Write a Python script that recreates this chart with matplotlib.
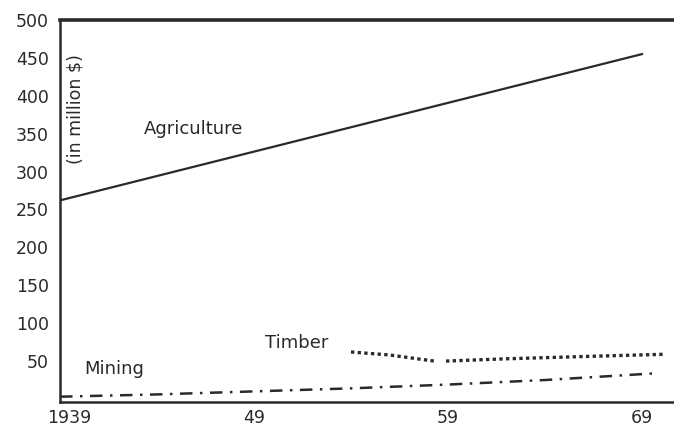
import numpy as np
import matplotlib
matplotlib.use("Agg")
import matplotlib.pyplot as plt
from matplotlib.transforms import ScaledTranslation

plt.rcParams['font.family'] = ['DejaVu Sans']

# Values (million $)
agri_years = [1939, 1969]
agri_values = [262, 455]

# timber has a short break just before 1959
timber_years = [1954, 1956, 1958, 1958.3, 1958.6, 1958.9, 1962, 1966, 1970.2]
timber_values = [62, 58, 51, 50, np.nan, 50, 53, 56, 59]

mining_years = [1939, 1944, 1949, 1954, 1959, 1964, 1969.8]
mining_values = [3, 6, 10, 14, 19, 25, 34]

year_ticks = [1939, 1949, 1959, 1969]
year_labels = ["1939", "49", "59", "69"]
value_ticks = [50, 100, 150, 200, 250, 300, 350, 400, 450, 500]

ink = "#2a2a2a"

fig = plt.figure(figsize=(6.74, 4.30), dpi=100)
ax = fig.add_axes([60 / 674, 28 / 430, 613 / 674, 382 / 430])

ax.plot(agri_years, agri_values, color=ink, lw=1.6)
ax.plot(timber_years, timber_values, color=ink, lw=2.4,
        linestyle=(0, (1, 1.0)))
ax.plot(mining_years, mining_values, color=ink, lw=1.8,
        linestyle=(0, (5, 3, 1, 3)))

ax.set_xlim(1939, 1970.6)
ax.set_ylim(-4, 500)

ax.set_xticks(year_ticks)
ax.set_xticklabels(year_labels)
ax.set_yticks(value_ticks)
ax.tick_params(length=0, labelsize=12.5, labelcolor=ink)
ax.tick_params(axis='y', pad=8)
ax.tick_params(axis='x', pad=5)

# the first year label sits a little right of the axis in the original
first = ax.get_xticklabels()[0]
first.set_transform(first.get_transform()
                    + ScaledTranslation(9 / 100, 0, fig.dpi_scale_trans))

for side in ["left", "bottom"]:
    ax.spines[side].set_linewidth(1.8)
    ax.spines[side].set_color(ink)
ax.spines["top"].set_linewidth(2.6)
ax.spines["top"].set_color(ink)
ax.spines["right"].set_visible(False)

# Labels
ax.text(1945.9, 356, "Agriculture", fontsize=13, color=ink,
        ha="center", va="center")
ax.text(1951.2, 74, "Timber", fontsize=13, color=ink,
        ha="center", va="center")
ax.text(1941.8, 39, "Mining", fontsize=13, color=ink,
        ha="center", va="center")
ax.text(1939.8, 383, "(in million $)", fontsize=12.5, color=ink,
        rotation=90, ha="center", va="center")

fig.savefig("out.png", dpi=100)
